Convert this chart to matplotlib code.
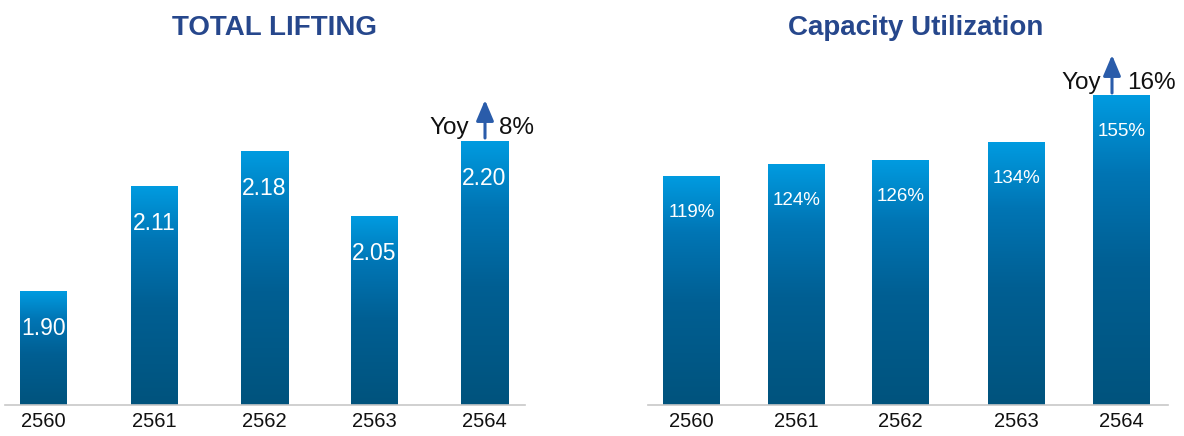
import matplotlib
matplotlib.use("Agg")
import matplotlib.pyplot as plt
import numpy as np
from matplotlib.colors import LinearSegmentedColormap

plt.rcParams['font.family'] = ['Liberation Sans', 'DejaVu Sans']

years = ["2560", "2561", "2562", "2563", "2564"]
lifting = [1.90, 2.11, 2.18, 2.05, 2.20]
lifting_labels = ["1.90", "2.11", "2.18", "2.05", "2.20"]
capacity = [119, 124, 126, 134, 155]
capacity_labels = ["119%", "124%", "126%", "134%", "155%"]
titles = ["TOTAL LIFTING", "Capacity Utilization"]
yoy_labels = ["8%", "16%"]

W, H = 1184, 436
fig = plt.figure(figsize=(W / 100, H / 100), dpi=100)

cmap = LinearSegmentedColormap.from_list(
    "bar", [(0.0, "#01537d"), (0.45, "#005f93"), (0.75, "#0075b4"), (1.0, "#009be0")])
grad = np.linspace(0, 1, 256).reshape(-1, 1)

title_color = "#26478c"
arrow_color = "#2a5caa"


def px_axes(x0, x1, ytop, ybot):
    return fig.add_axes([x0 / W, (H - ybot) / H, (x1 - x0) / W, (ybot - ytop) / H])


def draw_panel(ax, xs, vals, labels, width, ylim, label_fs, label_off, title, tcx, yoy, yoy_pos):
    for x, v, lab in zip(xs, vals, labels):
        ax.imshow(grad, extent=(x - width / 2, x + width / 2, ylim[0], v), origin="lower",
                  cmap=cmap, aspect="auto", zorder=2)
        yr = ylim[1] - ylim[0]
        ax.text(x, v - label_off * yr, lab, ha="center", va="center", color="white",
                fontsize=label_fs, zorder=3)
    ax.set_ylim(*ylim)
    for s in ["top", "right", "left"]:
        ax.spines[s].set_visible(False)
    ax.spines["bottom"].set_color("#c8c8c8")
    ax.spines["bottom"].set_linewidth(1.2)
    ax.set_yticks([])
    ax.set_xticks(xs)
    ax.set_xticklabels(years, fontsize=14.5, color="#111111")
    ax.tick_params(axis="x", length=0, pad=5)
    fig.text(tcx / W, 1 - 28 / H, title, ha="center", va="center", fontsize=20,
             fontweight="bold", color=title_color)
    # Yoy annotation
    yx, ax_px, px, ty = yoy_pos
    fig.text(yx / W, 1 - ty / H, "Yoy", ha="right", va="center", fontsize=17.5, color="#111111")
    fig.text(px / W, 1 - ty / H, yoy, ha="left", va="center", fontsize=17.5, color="#111111")
    fig.add_artist(matplotlib.patches.FancyArrowPatch(
        (ax_px, H - (ty + 10)), (ax_px, H - (ty - 28)), transform=None,
        arrowstyle="-|>,head_length=0.9,head_width=0.38", mutation_scale=14,
        linewidth=2.2, color=arrow_color, shrinkA=0, shrinkB=0))


# Left panel
axL = px_axes(5, 525, 60, 405)
xsL_px = [43.5, 154, 264, 374.5, 484]
xsL = [(p - 43.5) / 110.1 for p in xsL_px]
slopeL, baseL = 500.0, 1.673
draw_panel(axL, xsL, lifting, lifting_labels, 47 / 110.1, (baseL, baseL + 345 / slopeL), 16.5,
           37 / 345, titles[0], 274, yoy_labels[0], (469, 485, 499, 128))
axL.set_xlim((5 - 43.5) / 110.1, (525 - 43.5) / 110.1)

# Right panel
axR = px_axes(648, 1168, 60, 405)
xsR_px = [691.5, 796.5, 900.5, 1016.5, 1121.5]
xsR = [(p - 691.5) / 107.5 for p in xsR_px]
slopeR, baseR = 2.249, 17.2
draw_panel(axR, xsR, capacity, capacity_labels, 57 / 107.5, (baseR, baseR + 345 / slopeR), 13.5,
           36 / 345, titles[1], 916, yoy_labels[1], (1101, 1112, 1127, 83))
axR.set_xlim((648 - 691.5) / 107.5, (1168 - 691.5) / 107.5)

fig.savefig("out.png", dpi=100, facecolor="white")
